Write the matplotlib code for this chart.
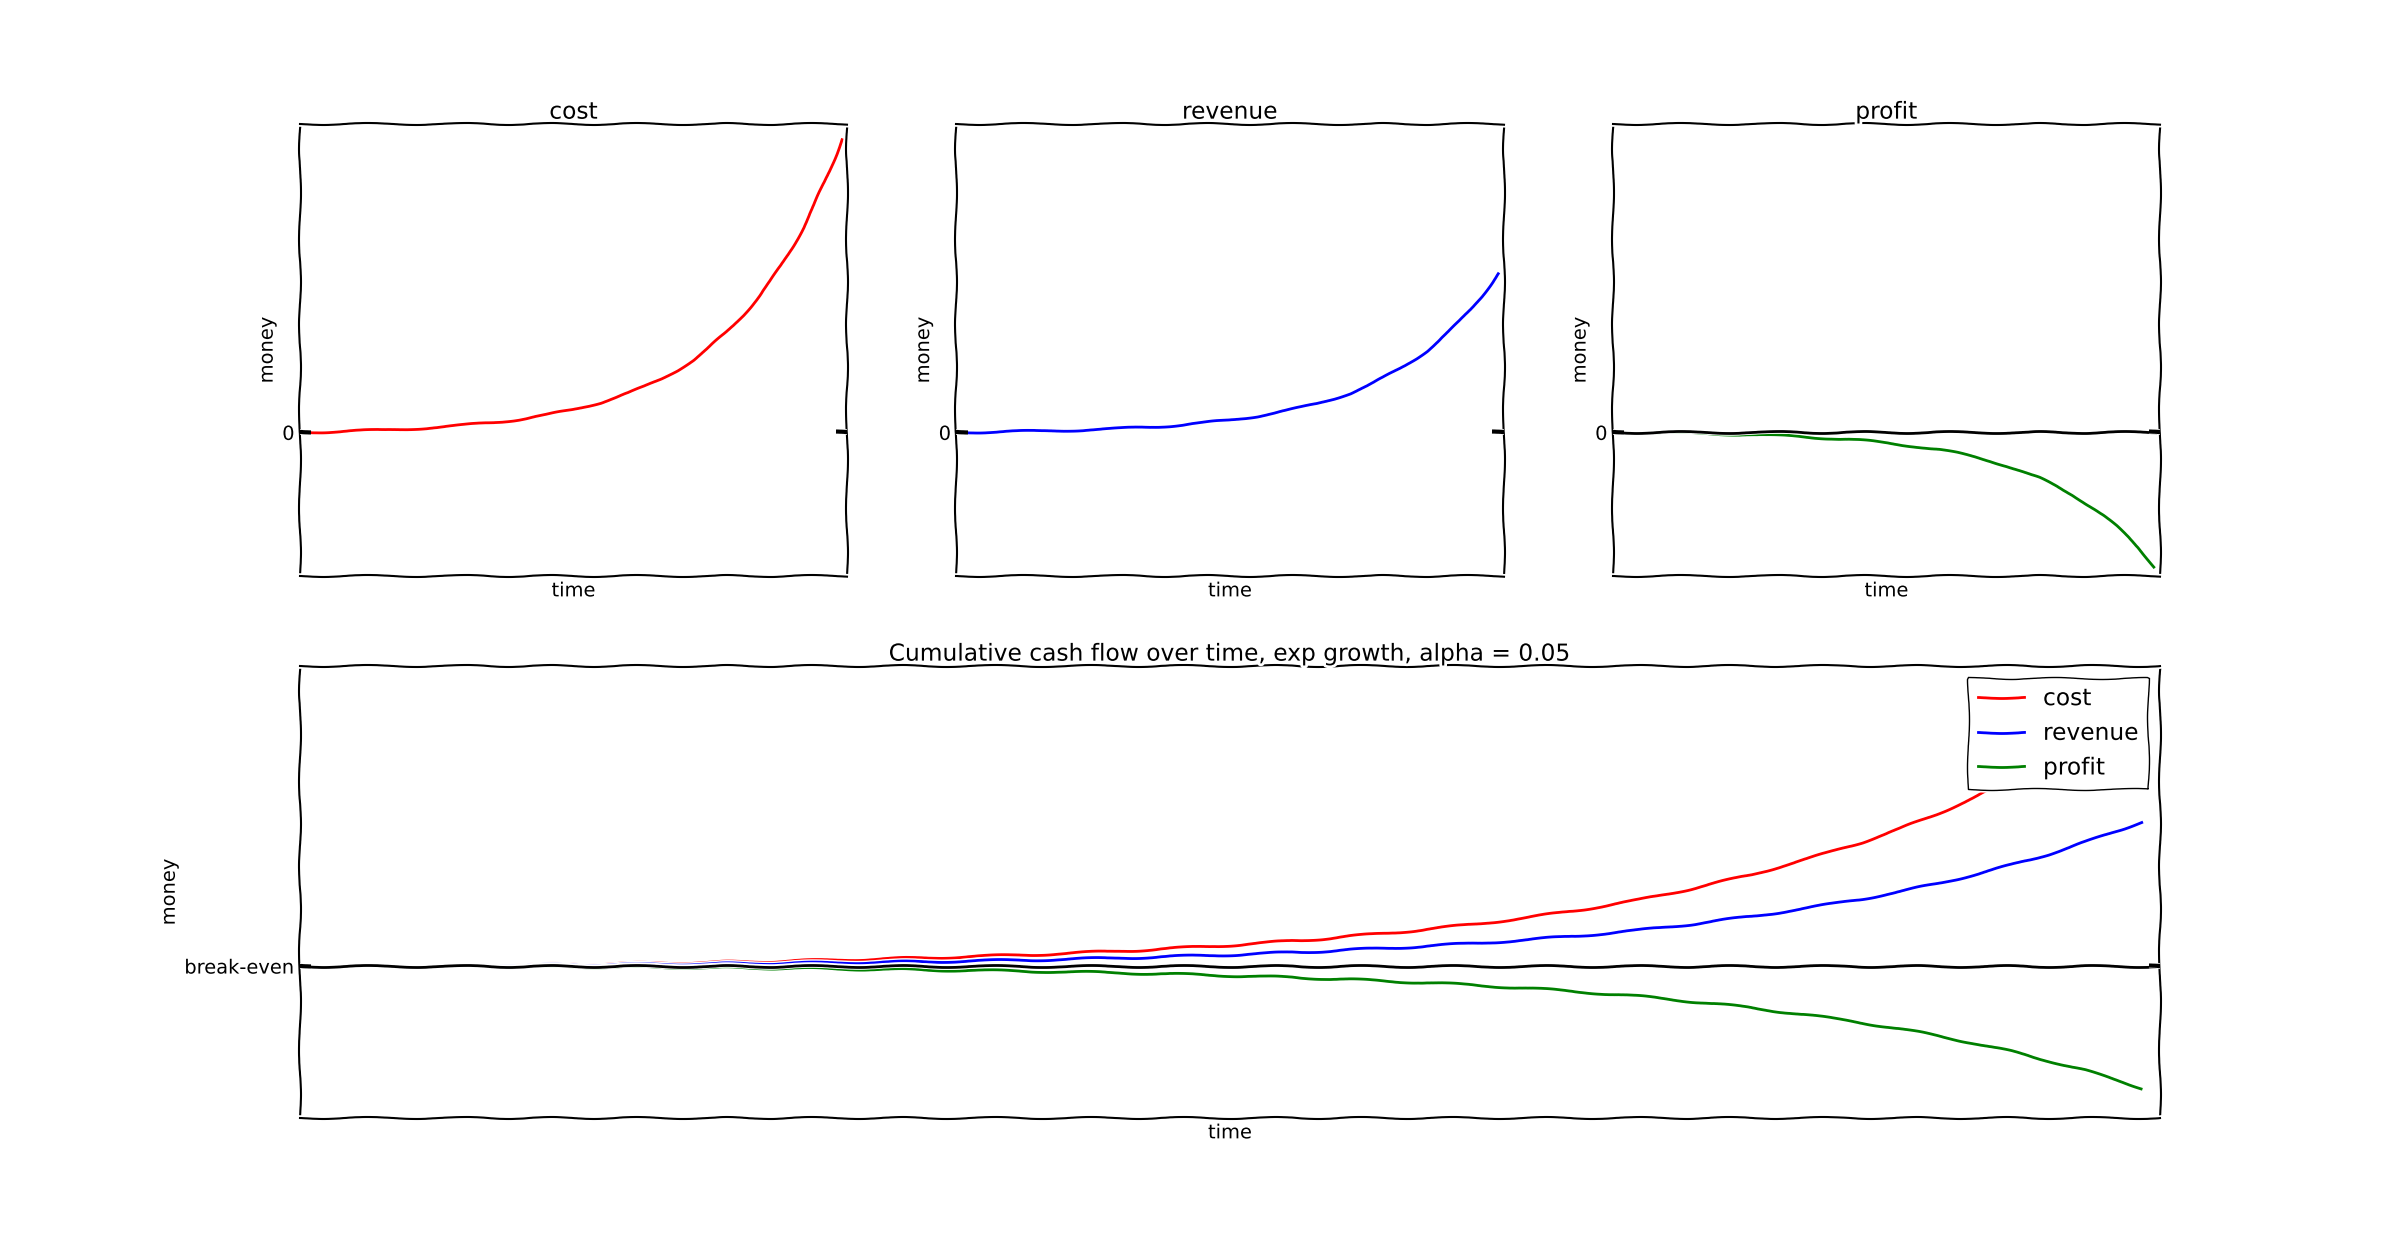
import matplotlib
matplotlib.use("Agg")
import matplotlib.pyplot as plt
import numpy as np

# ---- data ----
time = [0, 5, 10, 15, 20, 25, 30, 35, 40, 45, 50, 55, 60, 63, 66, 69, 72, 75, 78, 81,
        84, 86, 88, 90, 92, 94, 96, 98, 99]
cost = [0, 0.3, 0.7, 1.1, 1.8, 2.5, 3.6, 4.9, 6.5, 8.7, 11.5, 15.1, 19.7, 23.0, 26.8,
        31.4, 36.6, 43.2, 50.5, 59.1, 68.6, 75.9, 84.1, 93.2, 103.2, 114.3, 126.5, 140.1, 147.4]
revenue = [0, 0.2, 0.4, 0.6, 1.0, 1.4, 1.9, 2.6, 3.5, 4.7, 6.2, 8.2, 10.7, 12.5, 14.5,
           17.0, 19.8, 23.4, 27.4, 32.0, 37.2, 41.1, 45.6, 50.5, 55.9, 61.9, 68.6, 75.9, 79.9]
profit = [0, -0.1, -0.3, -0.5, -0.8, -1.1, -1.7, -2.3, -3.0, -4.0, -5.3, -6.9, -9.0, -10.5,
          -12.3, -14.4, -16.8, -19.8, -23.1, -27.1, -31.4, -34.8, -38.5, -42.7, -47.3,
          -52.4, -57.9, -64.2, -67.5]
series_names = ["cost", "revenue", "profit"]
series_colors = ["red", "blue", "green"]
main_title = "Cumulative cash flow over time, exp growth, alpha = 0.05"

plt.xkcd()
plt.rcParams["font.family"] = ["DejaVu Sans"]
plt.rcParams["font.size"] = 14
plt.rcParams["axes.titlesize"] = 16.8
plt.rcParams["axes.labelsize"] = 14
plt.rcParams["ytick.labelsize"] = 14
plt.rcParams["legend.fontsize"] = 16.8

fig = plt.figure(figsize=(24, 12.42), dpi=100)
gs = fig.add_gridspec(2, 3, left=0.125, right=0.9, bottom=0.1, top=0.9,
                      wspace=0.2, hspace=0.2)

data = [cost, revenue, profit]
top_ylim = (-72.2, 155.1)

for i in range(3):
    ax = fig.add_subplot(gs[0, i])
    ax.set_axisbelow(False)
    ax.plot(time, data[i], color=series_colors[i])
    if series_names[i] == "profit":
        ax.axhline(0, color="black", linewidth=2)
    ax.set_xlim(0, 100)
    ax.set_ylim(*top_ylim)
    ax.set_xticks([])
    ax.set_yticks([0])
    ax.set_yticklabels(["0"])
    ax.tick_params(axis="y", direction="in", left=True, right=True, length=8, width=3, pad=4)
    ax.set_title(series_names[i], pad=4)
    ax.set_xlabel("time")
    ax.set_ylabel("money")

axb = fig.add_subplot(gs[1, :])
axb.set_axisbelow(False)
for i in range(3):
    axb.plot(time, data[i], color=series_colors[i], label=series_names[i])
axb.axhline(0, color="black", linewidth=2)
axb.set_xlim(0, 100)
axb.set_ylim(-84, 166)
axb.set_xticks([])
axb.set_yticks([0])
axb.set_yticklabels(["break-even"])
axb.tick_params(axis="y", direction="in", left=True, right=True, length=8, width=3, pad=4)
axb.set_title(main_title, pad=4)
axb.set_xlabel("time")
axb.set_ylabel("money")
leg = axb.legend(loc="upper right", fancybox=False, framealpha=1, edgecolor="black",
                 borderpad=0.4, handlelength=2, handletextpad=0.8, labelspacing=0.5,
                 borderaxespad=0.5)

fig.savefig("out.png", dpi=100)
